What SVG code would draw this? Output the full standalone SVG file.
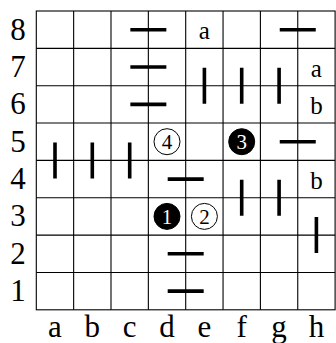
<svg xmlns="http://www.w3.org/2000/svg" width="336" height="343" viewBox="0 0 336 343">
<style>
.grid{stroke:#000;stroke-width:1.1;fill:none}
.bar{stroke:#000;stroke-width:3.6;stroke-linecap:butt}
.lbl{font-family:"Liberation Serif",serif;font-size:31px;text-anchor:middle;fill:#000}
.cl{font-family:"Liberation Serif",serif;font-size:25px;text-anchor:middle;fill:#000}
.cw{fill:#fff;stroke:#000;stroke-width:1}
.cb{fill:#000;stroke:#000;stroke-width:1}
.nw{font-family:"Liberation Serif",serif;font-size:21px;text-anchor:middle;fill:#000}
.nb{font-family:"Liberation Serif",serif;font-size:21px;text-anchor:middle;fill:#fff}
</style>
<rect width="336" height="343" fill="#fff"/>
<g id="grid" class="grid">
<rect x="36.3" y="11" width="298.8" height="298.8"/>
<path d="M73.65 11V309.8M111 11V309.8M148.35 11V309.8M185.7 11V309.8M223.05 11V309.8M260.4 11V309.8M297.75 11V309.8"/>
<path d="M36.3 48.35H335.1M36.3 85.7H335.1M36.3 123.05H335.1M36.3 160.4H335.1M36.3 197.75H335.1M36.3 235.1H335.1M36.3 272.45H335.1"/>
</g>
<g id="labels">
<text class="lbl" x="18" y="39.5">8</text>
<text class="lbl" x="18" y="76.8">7</text>
<text class="lbl" x="18" y="114.2">6</text>
<text class="lbl" x="18" y="151.5">5</text>
<text class="lbl" x="18" y="188.9">4</text>
<text class="lbl" x="18" y="226.2">3</text>
<text class="lbl" x="18" y="263.6">2</text>
<text class="lbl" x="18" y="300.9">1</text>
<text class="lbl" x="55" y="336.5">a</text>
<text class="lbl" x="92.3" y="336.5">b</text>
<text class="lbl" x="129.7" y="336.5">c</text>
<text class="lbl" x="167" y="336.5">d</text>
<text class="lbl" x="204.4" y="336.5">e</text>
<text class="lbl" x="241.7" y="336.5">f</text>
<text class="lbl" x="279.1" y="336.5">g</text>
<text class="lbl" x="316.4" y="336.5">h</text>
</g>
<g id="bars" class="bar">
<path d="M130.35 29.7H166.35M130.35 67H166.35M130.35 104.4H166.35M279.75 29.7H315.75M279.75 141.7H315.75M167.7 179.1H203.7M167.7 253.8H203.7M167.7 291.1H203.7"/>
<path d="M204.4 67.7V103.7M241.7 67.7V103.7M279.1 67.7V103.7M55 142.4V178.4M92.3 142.4V178.4M129.7 142.4V178.4M241.7 179.75V215.75M279.1 179.75V215.75M316.4 217.1V253.1"/>
</g>
<g id="cell-letters">
<text class="cl" x="204.4" y="39.2">a</text>
<text class="cl" x="316.4" y="76.5">a</text>
<text class="cl" x="316.4" y="113.9">b</text>
<text class="cl" x="316.4" y="188.6">b</text>
</g>
<g id="stone4"><circle class="cw" cx="167" cy="141.7" r="13"/><text class="nw" x="167" y="149">4</text></g>
<g id="stone3"><circle class="cb" cx="241.7" cy="141.7" r="13"/><text class="nb" x="241.7" y="149">3</text></g>
<g id="stone1"><circle class="cb" cx="167" cy="216.4" r="13"/><text class="nb" x="167" y="223.7">1</text></g>
<g id="stone2"><circle class="cw" cx="204.4" cy="216.4" r="13"/><text class="nw" x="204.4" y="223.7">2</text></g>
</svg>
